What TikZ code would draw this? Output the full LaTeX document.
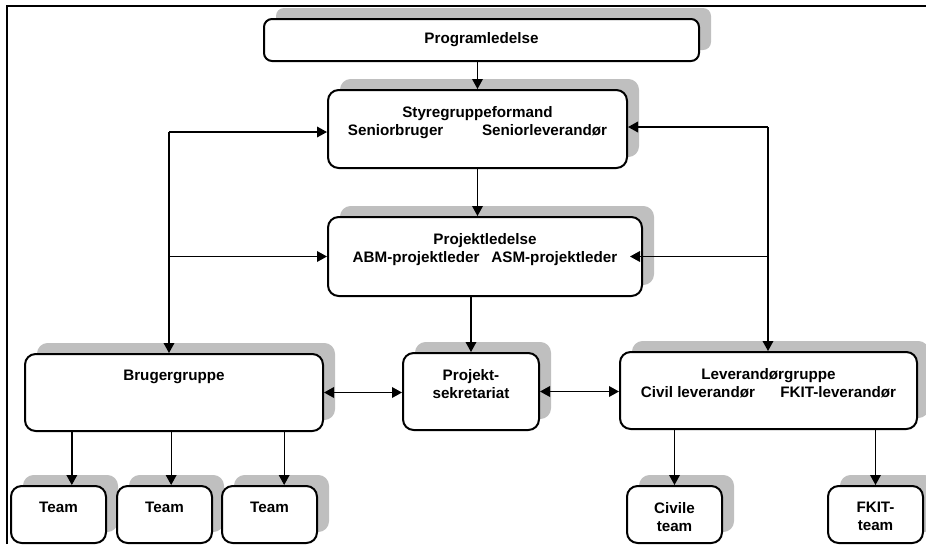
\documentclass[tikz,border=0pt]{standalone}
\usepackage{fontspec}
\setmainfont{Liberation Sans}
\usepackage{tikz}
\usetikzlibrary{arrows.meta,positioning,shadows,calc}
\definecolor{shadowgray}{RGB}{191,191,191}
\begin{document}
\begin{tikzpicture}[
  x=0.75pt, y=-0.75pt, >={Triangle[length=7.5pt,width=8pt]},
  box/.style={draw, line width=1.5pt, rounded corners=8pt, fill=white, inner sep=0pt,
              general shadow={fill=shadowgray, shadow xshift=9pt, shadow yshift=8.25pt}},
  grp/.style={box, minimum width=#1, minimum height=57.75pt},
  team/.style={box, minimum width=71.25pt, minimum height=42.75pt},
  txt/.style={anchor=north, yshift=-12.75pt, align=center, inner sep=0pt,
              font=\bfseries\fontsize{11.4}{13.5}\selectfont},
  conn/.style={line width=1pt}]
\useasboundingbox (0,0) rectangle (926,544);
\draw[line width=2pt] (7,544) -- (7,6) -- (926,6);

% top of the organisation
\node[box, rounded corners=6pt, minimum width=326.25pt, minimum height=31.5pt,
      label={[txt, yshift=2.25pt]north:Programledelse}] (prog) at (481.5,40) {};
\node[box, minimum width=224.25pt, minimum height=58.5pt,
      label={[txt]north:{Styregruppeformand\\Seniorbruger\hspace{29pt}Seniorleverandør}}] (styre) at (477.5,129) {};
\node[box, minimum width=235.5pt, minimum height=59.25pt,
      label={[txt]north:{Projektledelse\\ABM-projektleder\hspace{9pt}ASM-projektleder}}] (projl) at (485,256.5) {};

% groups
\node[grp=223.5pt, label={[txt]north:Brugergruppe}] (brug) at (174,392.5) {};
\node[grp=102pt, label={[txt]north:{Projekt-\\sekretariat}}] (sekr) at (471,391.5) {};
\node[grp=222.75pt, label={[txt]north:{Leverandørgruppe\\Civil leverandør\hspace{19pt}FKIT-leverandør}}] (lev) at (768.5,390.5) {};

% teams
\node[team, label={[txt]north:Team}] (team1) at (58.5,514.5) {};
\node[team, label={[txt]north:Team}] (team2) at (164.5,514.5) {};
\node[team, label={[txt]north:Team}] (team3) at (269.5,514.5) {};
\node[team, label={[txt]north:{Civile\\team}}] (civ) at (674.5,514.5) {};
\node[team, label={[txt]north:{FKIT-\\team}}] (fkit) at (875.5,514.5) {};

\draw[conn, ->] (styre.north |- prog.south) -- (styre.north);
\draw[conn, ->] (styre.south) -- (styre.south |- projl.north);
\draw[conn, ->] (sekr.north |- projl.south) -- (sekr.north);
% bus on the left
\coordinate (lbus) at (169,132);
\draw[conn, ->] (lbus) -- (lbus -| styre.west);
\draw[conn, ->] (lbus) -- (lbus |- brug.north);
\draw[conn, ->] (lbus |- projl.west) -- (projl.west);
% bus on the right
\coordinate (rbus) at (768,127);
\draw[conn, ->] (rbus) -- (rbus -| styre.east);
\draw[conn, ->] (rbus) -- (rbus |- lev.north);
\draw[conn, ->] (rbus |- projl.east) -- ([xshift=-9.75pt]projl.east);
\draw[conn, <->] (brug.east) -- (brug.east -| sekr.west);
\draw[conn, <->] (sekr.east) -- (sekr.east -| lev.west);
\foreach \t/\d in {team1/10, team2/5, team3/11}
  \draw[conn, ->] ([xshift=\d pt]\t.north |- brug.south) -- ([xshift=\d pt]\t.north);
\foreach \t in {civ, fkit}
  \draw[conn, ->] (\t.north |- lev.south) -- (\t.north);
\end{tikzpicture}
\end{document}
